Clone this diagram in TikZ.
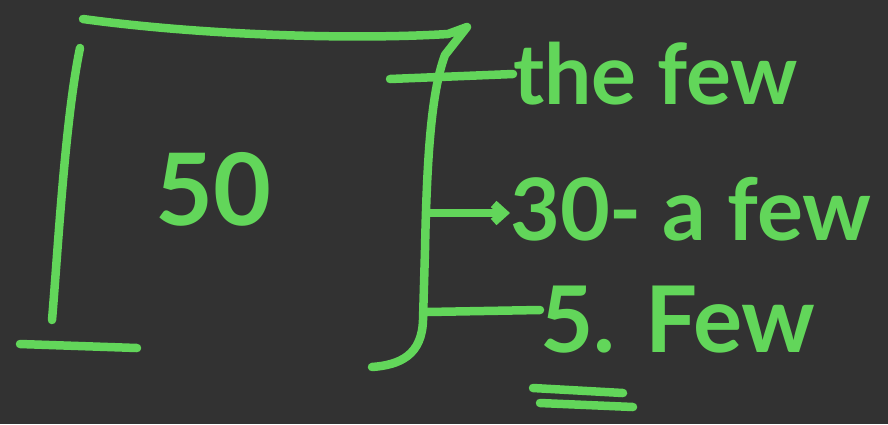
\documentclass[tikz,border=0pt]{standalone}
\usepackage{fontspec}
\setmainfont{Lato}
\usetikzlibrary{arrows.meta}
\definecolor{board}{HTML}{323232}
\definecolor{chalk}{HTML}{62D65A}
\tikzset{
  stroke/.style={draw=chalk, line width=8.5pt, line cap=round, line join=round},
  hand/.style={text=chalk, inner sep=0pt, font=\bfseries}
}
\begin{document}
\begin{tikzpicture}[x=1pt,y=-1pt]
\fill[board] (0,0) rectangle (888,424);
\useasboundingbox (0,0) rectangle (888,424);
% text
\node[hand, anchor=base west, font=\bfseries\fontsize{100}{100}\selectfont] (fifty) at (155,225) {50};
\node[hand, anchor=base west, font=\bfseries\fontsize{84}{84}\selectfont] (thefew) at (513,104) {the few};
\node[hand, anchor=base west, font=\bfseries\fontsize{86}{86}\selectfont] (afew) at (510,240) {30- a few};
\node[hand, anchor=base west, font=\bfseries\fontsize{92}{92}\selectfont] (few) at (540,352) {5. Few};
% box
\draw[stroke] (83,19) .. controls (200,35) and (350,40) .. (448,34) -- (467,27) -- (445,55)
  .. controls (432,90) and (427,150) .. (425,250) -- (423,320)
  .. controls (422,355) and (400,365) .. (372,367);
\draw[stroke] (80,48) .. controls (65,120) and (58,250) .. (52,320);
\draw[stroke] (20,344) -- (137,348);
% branches
\coordinate (b1) at (390,79);
\coordinate (b2) at (427,213);
\coordinate (b3) at (427,312);
\draw[stroke] (b1) -- (thefew.west |- 0,74) ;
\draw[stroke, -{Straight Barb[length=10pt,width=18pt]}] (b2) -- (afew.west |- 0,213);
\draw[stroke] (b3) -- (few.west |- 0,310);
% double underline
\coordinate (u1) at (533,388);
\coordinate (u2) at (623,393);
\coordinate (u3) at (540,403);
\coordinate (u4) at (633,407);
\draw[stroke] (u1) -- (u2);
\draw[stroke] (u3) -- (u4);
\end{tikzpicture}
\end{document}
